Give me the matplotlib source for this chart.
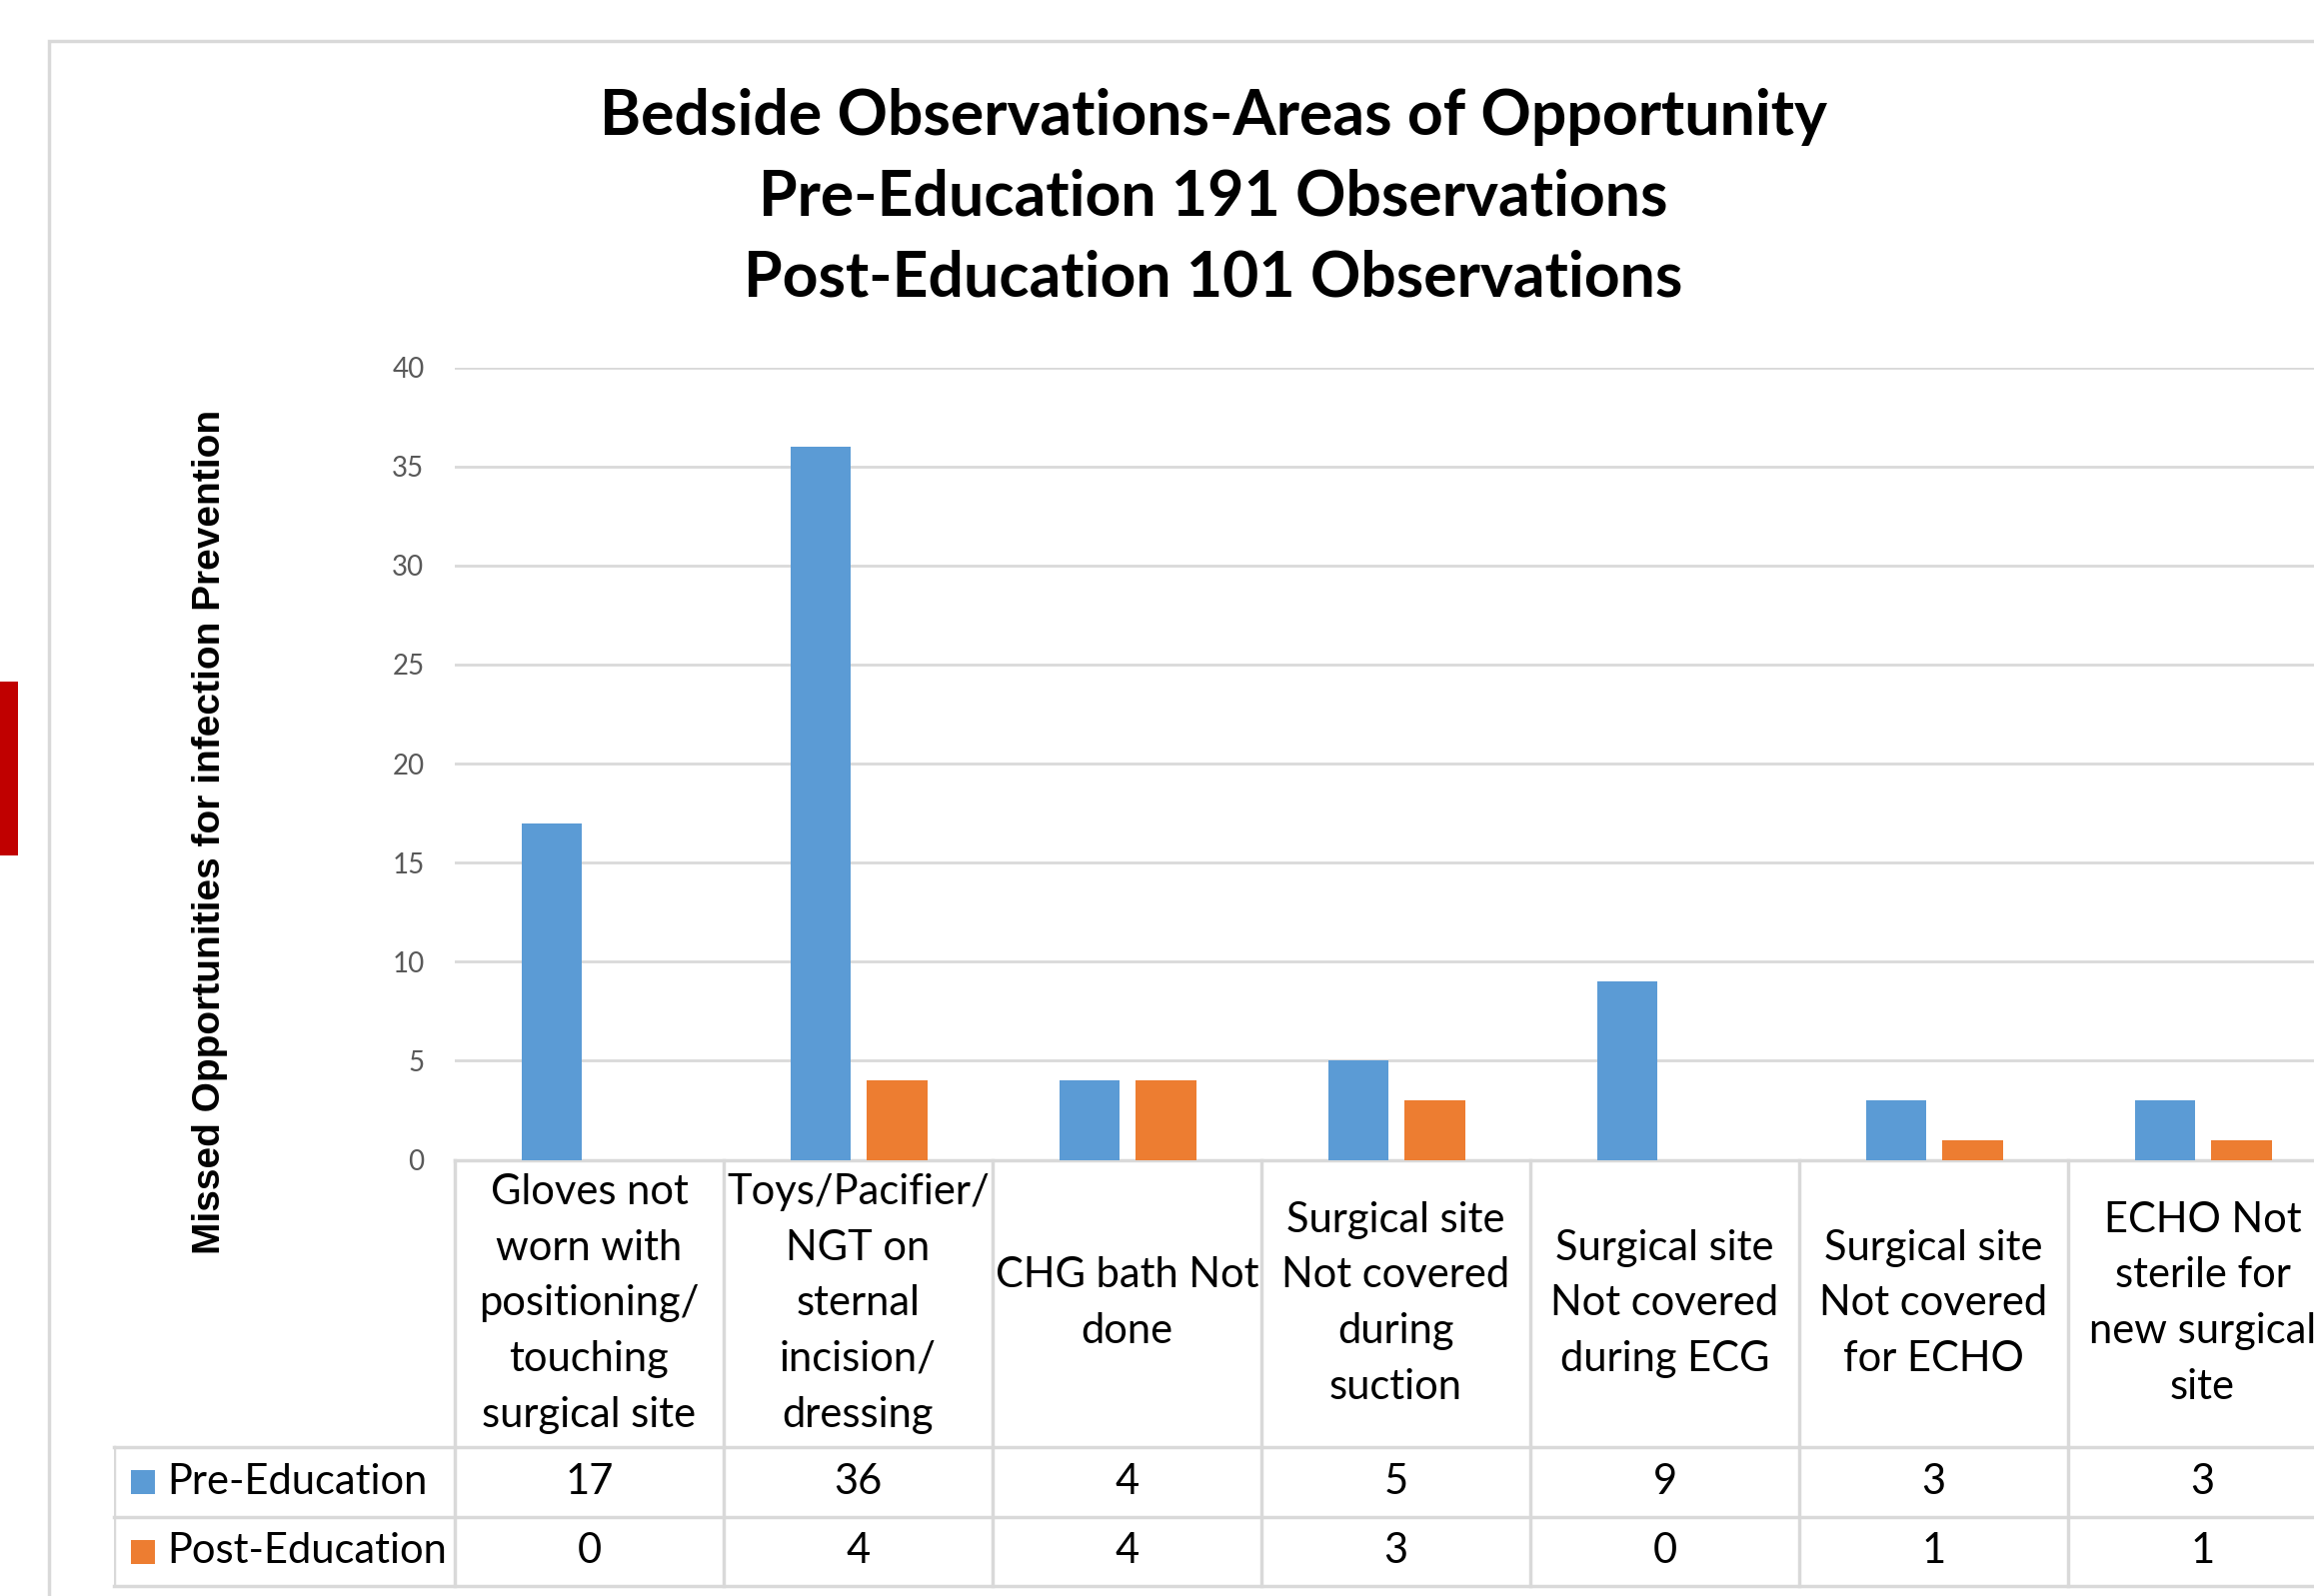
import matplotlib.pyplot as plt
from matplotlib.patches import Rectangle
import numpy as np

categories = ["Gloves not\nworn with\npositioning/\ntouching\nsurgical site",
              "Toys/Pacifier/\nNGT on\nsternal\nincision/\ndressing",
              "CHG bath Not\ndone",
              "Surgical site\nNot covered\nduring\nsuction",
              "Surgical site\nNot covered\nduring ECG",
              "Surgical site\nNot covered\nfor ECHO",
              "ECHO Not\nsterile for\nnew surgical\nsite"]
pre_education = [17, 36, 4, 5, 9, 3, 3]
post_education = [0, 4, 4, 3, 0, 1, 1]
series_names = ["Pre-Education", "Post-Education"]
y_ticks = [0, 5, 10, 15, 20, 25, 30, 35, 40]

title = ("Bedside Observations-Areas of Opportunity\n"
         "Pre-Education 191 Observations\n"
         "Post-Education 101 Observations")
y_label = "Missed Opportunities for infection Prevention"

blue = "#5b9bd5"
orange = "#ed7d31"
grid_col = "#d9d9d9"
font = ["Lato", "DejaVu Sans"]

W, H = 2315, 1597
fig = plt.figure(figsize=(W / 100, H / 100), dpi=100)

# outer chart frame and the red tab at the left edge
fig.add_artist(Rectangle((49 / W, -0.05), 1.0, 1 - 41 / H + 0.05, transform=fig.transFigure,
                         fill=False, edgecolor=grid_col, linewidth=2.5))
fig.add_artist(Rectangle((0, 1 - 856 / H), 18 / W, 174 / H, transform=fig.transFigure,
                         facecolor="#c00000", edgecolor="none"))

# plot area (runs past the right edge, as in the picture)
col_w = 269
left, y0, y40 = 455, 1160.5, 367.6
n = len(categories)
ax = fig.add_axes([left / W, 1 - y0 / H, n * col_w / W, (y0 - y40) / H])
x = np.arange(n)
ax.bar(x - 0.14, pre_education, width=0.225, color=blue, zorder=3)
ax.bar(x + 0.145, post_education, width=0.225, color=orange, zorder=3)
ax.set_xlim(-0.5, n - 0.5)
ax.set_ylim(0, 40)
ax.set_yticks(y_ticks)
ax.set_yticklabels([str(t) for t in y_ticks], fontsize=20, color="#595959", family=font)
ax.tick_params(axis="y", length=0, pad=22)
ax.set_xticks([])
ax.grid(axis="y", color=grid_col, linewidth=2)
for s in ["top", "right", "left"]:
    ax.spines[s].set_visible(False)
ax.spines["bottom"].set_color(grid_col)
ax.spines["bottom"].set_linewidth(2.5)

fig.text(1214 / W, 1 - 198 / H, title, ha="center", va="center", fontsize=45,
         fontweight="bold", family=font, linespacing=1.48)
fig.text(210 / W, 1 - 832 / H, y_label, rotation=90, ha="center", va="center",
         fontsize=28, fontweight="bold", family=["Liberation Sans", "DejaVu Sans"])

# data table under the plot
tab_left = 114
leg_w = (left - tab_left) / col_w
r1, r2, r3 = 287.5, 357.5, 426.5
tax = fig.add_axes([tab_left / W, 1 - (y0 + r3 + 2) / H, (left - tab_left + n * col_w) / W, (r3 + 2) / H])
tax.set_xlim(-0.5 - leg_w, n - 0.5)
tax.set_ylim(r3 + 2, 0)
tax.axis("off")
lw = 2.5
for yy in [r1, r2, r3]:
    tax.plot([-0.5 - leg_w, n - 0.5], [yy, yy], color=grid_col, lw=lw, clip_on=False)
for xx in np.arange(n + 1) - 0.5:
    tax.plot([xx, xx], [0, r3], color=grid_col, lw=lw, clip_on=False)
tax.plot([-0.5 - leg_w, -0.5 - leg_w], [r1, r3], color=grid_col, lw=lw)

fs = 30
for i, lab in enumerate(categories):
    tax.text(i, r1 / 2, lab, ha="center", va="center", fontsize=fs, family=font,
             linespacing=1.57, clip_on=False)
    tax.text(i, (r1 + r2) / 2, str(pre_education[i]), ha="center", va="center",
             fontsize=fs, family=font)
    tax.text(i, (r2 + r3) / 2, str(post_education[i]), ha="center", va="center",
             fontsize=fs, family=font)

for name, col, (ya, yb) in zip(series_names, [blue, orange], [(r1, r2), (r2, r3)]):
    yc = (ya + yb) / 2
    tax.add_patch(Rectangle((-0.5 - leg_w + 17 / col_w, yc - 12), 24 / col_w, 24,
                            facecolor=col, edgecolor="none"))
    tax.text(-0.5 - leg_w + 53 / col_w, yc, name, ha="left", va="center",
             fontsize=fs, family=font)

fig.savefig("out.png", dpi=100)
